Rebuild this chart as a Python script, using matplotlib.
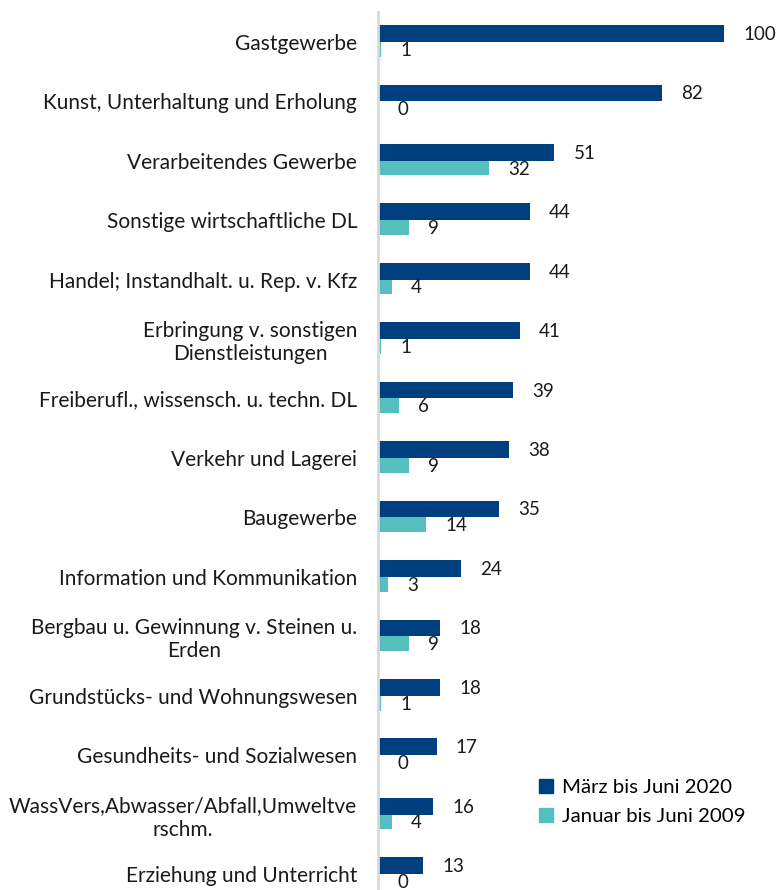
import matplotlib
matplotlib.use("Agg")
import matplotlib.pyplot as plt
from matplotlib.patches import Patch

categories = [
    "Gastgewerbe",
    "Kunst, Unterhaltung und Erholung",
    "Verarbeitendes Gewerbe",
    "Sonstige wirtschaftliche DL",
    "Handel; Instandhalt. u. Rep. v. Kfz",
    "Erbringung v. sonstigen\nDienstleistungen",
    "Freiberufl., wissensch. u. techn. DL",
    "Verkehr und Lagerei",
    "Baugewerbe",
    "Information und Kommunikation",
    "Bergbau u. Gewinnung v. Steinen u.\nErden",
    "Grundstücks- und Wohnungswesen",
    "Gesundheits- und Sozialwesen",
    "WassVers,Abwasser/Abfall,Umweltve\nrschm.",
    "Erziehung und Unterricht",
]
series_2020 = [100, 82, 51, 44, 44, 41, 39, 38, 35, 24, 18, 18, 17, 16, 13]
series_2009 = [1, 0, 32, 9, 4, 1, 6, 9, 14, 3, 9, 1, 0, 4, 0]
series_names = ["März bis Juni 2020", "Januar bis Juni 2009"]

DARK = "#003F7F"
LIGHT = "#55BFC0"
FONT = "Lato"
FS_CAT = 15
FS_VAL = 13.5
FS_LEG = 14.7
TXT = "#1a1a1a"

W, H = 779, 890
fig = plt.figure(figsize=(W / 100, H / 100), dpi=100)
ax_left, ax_right = 378 / W, 1.0
ax_top, ax_bot = 12 / H, 890 / H
ax = fig.add_axes([ax_left, 1 - ax_bot, ax_right - ax_left, ax_bot - ax_top])

n = len(categories)
pos = list(range(n))
hd, hl = 0.28, 0.25
ax.barh([p - hd / 2 for p in pos], series_2020, height=hd, color=DARK, label=series_names[0])
ax.barh([p + hl / 2 for p in pos], series_2009, height=hl, color=LIGHT, label=series_names[1])

xmax = (W - 378) / 3.46
ax.set_xlim(0, xmax)
ax.set_ylim((H - 41.7) / 59.45, -0.5)

for p, v in zip(pos, series_2020):
    ax.annotate(str(v), (v, p - hd / 2), xytext=(19, -1), textcoords="offset pixels",
                ha="left", va="center", fontsize=FS_VAL, family=FONT, color=TXT)
for p, v in zip(pos, series_2009):
    ax.annotate(str(v), (v, p + hl / 2), xytext=(19, -1), textcoords="offset pixels",
                ha="left", va="center", fontsize=FS_VAL, family=FONT, color=TXT)

ax.set_yticks(pos)
ax.set_yticklabels(categories, fontsize=FS_CAT, family=FONT, color=TXT,
                   multialignment="center", linespacing=1.2)
ax.tick_params(axis="y", length=0, pad=15)
ax.set_xticks([])
for s in ["top", "right", "bottom"]:
    ax.spines[s].set_visible(False)
ax.spines["left"].set_color("#D9D9D9")
ax.spines["left"].set_linewidth(2)

handles = [Patch(color=DARK), Patch(color=LIGHT)]
fig.legend(handles, series_names, loc="upper left", bbox_to_anchor=(531 / W, 1 - 771 / H),
           frameon=False, prop={"family": FONT, "size": FS_LEG}, handlelength=0.7, handleheight=0.7,
           handletextpad=0.4, labelspacing=0.55, borderaxespad=0)

fig.savefig("out.png", dpi=100)
